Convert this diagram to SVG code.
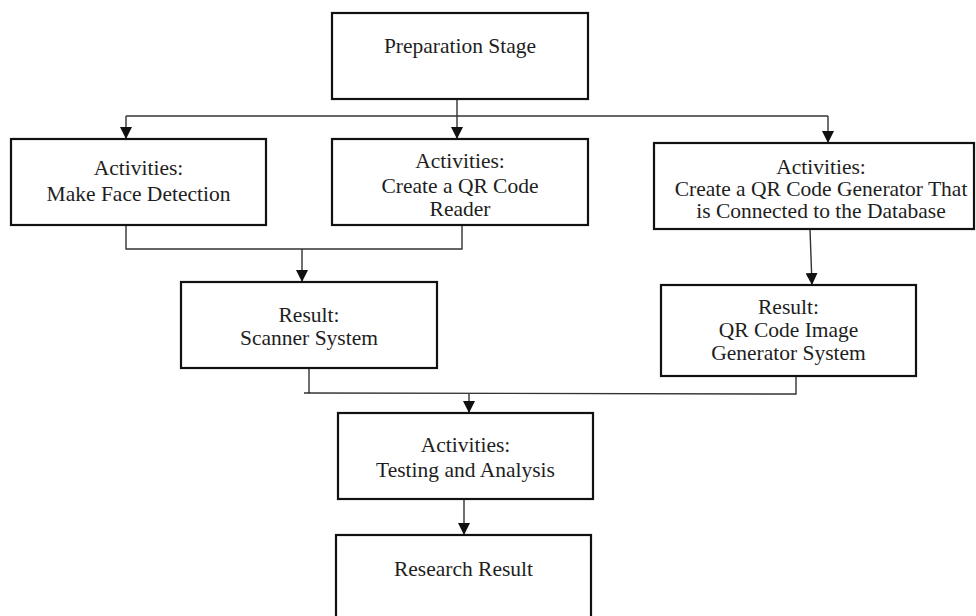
<svg xmlns="http://www.w3.org/2000/svg" width="976" height="616" viewBox="0 0 976 616">
<style>
.box{fill:#fff;stroke:#111;stroke-width:2.2}
.t{font-family:"Liberation Serif","Times New Roman",serif;font-size:21.5px;fill:#1e1e1e;text-anchor:middle}
.c{fill:none;stroke:#333;stroke-width:1.4}
.a{marker-end:url(#ah)}
</style>
<defs>
<marker id="ah" markerUnits="userSpaceOnUse" markerWidth="13" markerHeight="12" refX="12" refY="6" orient="auto">
<path d="M0,0 L12,6 L0,12 z" fill="#111"/>
</marker>
</defs>
<rect width="976" height="616" fill="#fff"/>
<g id="connectors">
<path class="c" d="M126,116 H828"/>
<path class="c a" d="M126,116 V139"/>
<path class="c a" d="M457,99 V139"/>
<path class="c a" d="M828,116 V143"/>
<path class="c" d="M126,225 V249 H462 V225"/>
<path class="c a" d="M302,249 V282"/>
<path class="c a" d="M810,229 L812,285"/>
<path class="c" d="M309,368 V393 M304,393 L796,394 V376"/>
<path class="c a" d="M469,394 V413"/>
<path class="c a" d="M464,499 V535"/>
</g>
<g id="prep">
<rect class="box" x="332" y="13" width="256" height="86"/>
<text class="t" x="460" y="53">Preparation Stage</text>
</g>
<g id="act-face">
<rect class="box" x="11" y="139" width="255" height="86"/>
<text class="t" x="138.5" y="175">Activities:</text>
<text class="t" x="138.5" y="201">Make Face Detection</text>
</g>
<g id="act-reader">
<rect class="box" x="332" y="139" width="256" height="86"/>
<text class="t" x="460" y="168">Activities:</text>
<text class="t" x="460" y="193">Create a QR Code</text>
<text class="t" x="460" y="216">Reader</text>
</g>
<g id="act-generator">
<rect class="box" x="654" y="143" width="320" height="86"/>
<text class="t" x="821" y="174">Activities:</text>
<text class="t" x="821" y="196">Create a QR Code Generator That</text>
<text class="t" x="821" y="218">is Connected to the Database</text>
</g>
<g id="res-scanner">
<rect class="box" x="181" y="282" width="256" height="86"/>
<text class="t" x="309" y="322">Result:</text>
<text class="t" x="309" y="345">Scanner System</text>
</g>
<g id="res-generator">
<rect class="box" x="661" y="285" width="255" height="91"/>
<text class="t" x="788.5" y="314">Result:</text>
<text class="t" x="788.5" y="337">QR Code Image</text>
<text class="t" x="788.5" y="360">Generator System</text>
</g>
<g id="testing">
<rect class="box" x="338" y="413" width="255" height="86"/>
<text class="t" x="465.5" y="452">Activities:</text>
<text class="t" x="465.5" y="477">Testing and Analysis</text>
</g>
<g id="research">
<rect class="box" x="336" y="535" width="255" height="85"/>
<text class="t" x="463.5" y="576">Research Result</text>
</g>
</svg>
